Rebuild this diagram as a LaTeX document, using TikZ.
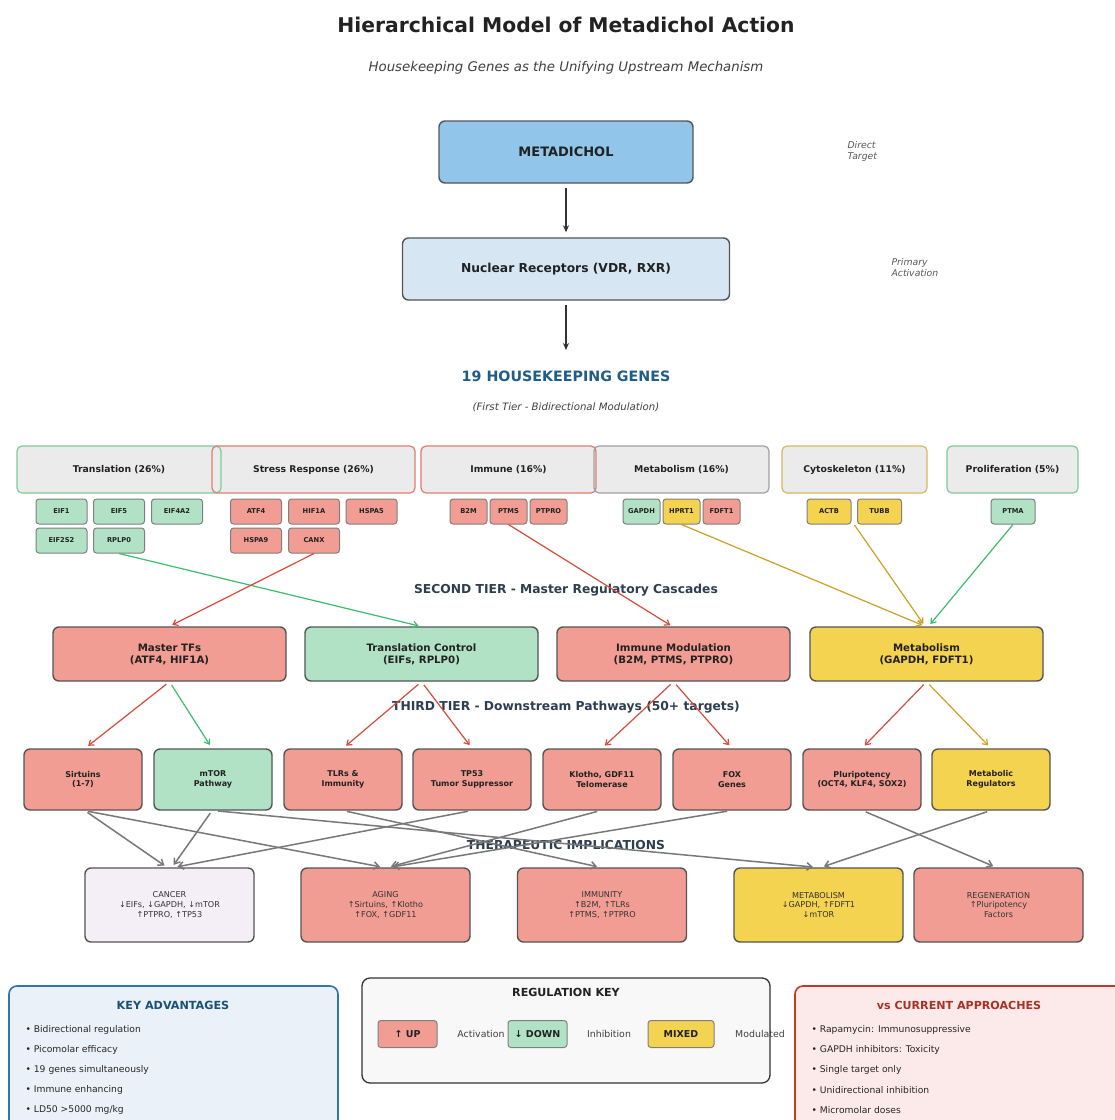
\documentclass[tikz,border=0pt]{standalone}
\usepackage{fontspec}
\setmainfont{DejaVu Sans}[ItalicFont={DejaVu Sans Oblique},BoldFont={DejaVu Sans Bold},BoldItalicFont={DejaVu Sans Bold Oblique}]
\usetikzlibrary{arrows.meta}
\definecolor{upred}{HTML}{F19D93}
\definecolor{dngreen}{HTML}{B2E2C6}
\definecolor{mxyel}{HTML}{F4D351}
\definecolor{lred}{HTML}{D64B3C}
\definecolor{lgreen}{HTML}{3DBB6E}
\definecolor{lgold}{HTML}{C9A227}
\definecolor{bord}{HTML}{555555}
\definecolor{gbord}{HTML}{7F7F7F}
\definecolor{tiercol}{HTML}{2C3E50}
\definecolor{hkblue}{HTML}{1F5C87}
\definecolor{metblue}{HTML}{92C5EA}
\definecolor{nucblue}{HTML}{D6E6F2}
\definecolor{catfill}{HTML}{EBEBEB}
\definecolor{catgreen}{HTML}{7DCB97}
\definecolor{catred}{HTML}{E07B70}
\definecolor{catgray}{HTML}{A0A0A0}
\definecolor{catgold}{HTML}{D9B860}
\definecolor{arrgray}{HTML}{787878}
\definecolor{cancerfill}{HTML}{F4EEF6}
\definecolor{advfill}{HTML}{EAF1F8}
\definecolor{advbord}{HTML}{2E75B6}
\definecolor{advtitle}{HTML}{1A5276}
\definecolor{vsfill}{HTML}{FCEAEA}
\definecolor{vsbord}{HTML}{C0392B}
\definecolor{vstitle}{HTML}{A93226}
\definecolor{keyfill}{HTML}{F8F8F8}
\definecolor{txtdark}{HTML}{222222}
\newcommand\fsz[2]{\fontsize{#1}{#2}\selectfont}
\begin{document}
\begin{tikzpicture}[x=1pt,y=-1pt,
  box/.style={draw=bord, line width=1.4pt, rounded corners=6pt, align=center, inner sep=0pt, text=txtdark},
  topbox/.style={box, minimum height=62pt, font=\bfseries\fsz{13}{15}},
  catbox/.style={rounded corners=5pt, line width=1.2pt, minimum height=47pt, inner sep=0pt, font=\bfseries\fsz{9.3}{11}, text=txtdark},
  gene/.style={draw=gbord, line width=1pt, rounded corners=3pt, minimum height=25pt, inner sep=0pt, font=\bfseries\fsz{6.7}{8}, text=txtdark},
  tier2/.style={box, minimum width=233pt, minimum height=54pt, font=\bfseries\fsz{10.2}{12}},
  tier3/.style={box, minimum width=118pt, minimum height=61pt, font=\bfseries\fsz{8}{9.6}},
  thera/.style={box, minimum width=169pt, minimum height=74pt, font=\fsz{8.1}{9.9}, text=black!80},
  tierlab/.style={font=\bfseries\fsz{12.3}{14}, text=tiercol},
  arr/.style={-{Straight Barb[length=4.5pt,width=6.5pt]}, line width=1.2pt},
  garr/.style={-{Straight Barb[length=5pt,width=7.5pt]}, line width=1.5pt, draw=arrgray},
  blkarr/.style={-{Stealth[length=7pt,width=6pt]}, line width=1.8pt, draw=black!80},
  bullet/.style={anchor=west, font=\fsz{9.2}{11}, text=black!85},
  keybox/.style={draw=gbord, line width=1pt, rounded corners=3pt, minimum height=27pt, inner sep=0pt, font=\bfseries\fsz{9.5}{11}, text=txtdark},
  keytxt/.style={font=\fsz{9.4}{11}, text=black!75}
]
\clip (0,0) rectangle (1115,1120);
\fill[white] (0,0) rectangle (1115,1120);

% title
\node[font=\bfseries\fsz{20.3}{24}, text=txtdark] (title) at (566,25) {Hierarchical Model of Metadichol Action};
\node[font=\itshape\fsz{13.3}{16}, text=black!75] (sub) at (566,68) {Housekeeping Genes as the Unifying Upstream Mechanism};

% top boxes
\node[topbox, fill=metblue, minimum width=254pt] (meta) at (566,152) {METADICHOL};
\node[topbox, fill=nucblue, minimum width=327pt, font=\bfseries\fsz{12.3}{15}] (nuc) at (566,269) {Nuclear Receptors (VDR, RXR)};
\node[font=\itshape\fsz{9.3}{11}, text=black!65, align=left, anchor=west] (dt) at (844,151) {Direct\\Target};
\node[font=\itshape\fsz{9.3}{11}, text=black!65, align=left, anchor=west] (pa) at (888,268) {Primary\\Activation};
\coordinate (hktop) at (566,350);
\draw[blkarr, shorten <=4pt, shorten >=5pt] (meta.south) -- (nuc.north);
\draw[blkarr, shorten <=4pt] (nuc.south) -- (hktop);

\node[font=\bfseries\fsz{14.25}{17}, text=hkblue] (hk) at (566,376) {19 HOUSEKEEPING GENES};
\node[font=\itshape\fsz{10.2}{12}, text=black!75] (hk2) at (566,407) {(First Tier - Bidirectional Modulation)};

% category fills
\foreach \a/\b in {17/221,212/415,421/596,594/769,782/927,947/1078}
  \fill[catfill, rounded corners=5pt] (\a,446) rectangle (\b,493);
\node[catbox, draw=catgreen, minimum width=204pt] (ctrans) at (119,469.5) {Translation (26\%)};
\node[catbox, draw=catred, minimum width=203pt] (cstress) at (313.5,469.5) {Stress Response (26\%)};
\node[catbox, draw=catred, minimum width=175pt] (cimm) at (508.5,469.5) {Immune (16\%)};
\node[catbox, draw=catgray, minimum width=175pt] (cmet) at (681.5,469.5) {Metabolism (16\%)};
\node[catbox, draw=catgold, minimum width=145pt] (ccyto) at (854.5,469.5) {Cytoskeleton (11\%)};
\node[catbox, draw=catgreen, minimum width=131pt] (cprol) at (1012.5,469.5) {Proliferation (5\%)};

% genes
\node[gene, fill=dngreen, minimum width=51pt] (eif1) at (61.5,511.5) {EIF1};
\node[gene, fill=dngreen, minimum width=51pt] (eif5) at (119,511.5) {EIF5};
\node[gene, fill=dngreen, minimum width=51pt] (eif4a2) at (177,511.5) {EIF4A2};
\node[gene, fill=dngreen, minimum width=51pt] (eif2s2) at (61.5,540.5) {EIF2S2};
\node[gene, fill=dngreen, minimum width=51pt] (rplp0) at (119,540.5) {RPLP0};
\node[gene, fill=upred, minimum width=51pt] (atf4) at (256,511.5) {ATF4};
\node[gene, fill=upred, minimum width=51pt] (hif1a) at (314,511.5) {HIF1A};
\node[gene, fill=upred, minimum width=51pt] (hspa5) at (371.5,511.5) {HSPA5};
\node[gene, fill=upred, minimum width=51pt] (hspa9) at (256,540.5) {HSPA9};
\node[gene, fill=upred, minimum width=51pt] (canx) at (314,540.5) {CANX};
\node[gene, fill=upred, minimum width=37pt] (b2m) at (468.5,511.5) {B2M};
\node[gene, fill=upred, minimum width=37pt] (ptms) at (508.5,511.5) {PTMS};
\node[gene, fill=upred, minimum width=37pt] (ptpro) at (548.5,511.5) {PTPRO};
\node[gene, fill=dngreen, minimum width=37pt] (gapdh) at (641.5,511.5) {GAPDH};
\node[gene, fill=mxyel, minimum width=37pt] (hprt1) at (681.5,511.5) {HPRT1};
\node[gene, fill=upred, minimum width=37pt] (fdft1) at (721.5,511.5) {FDFT1};
\node[gene, fill=mxyel, minimum width=44pt] (actb) at (829,511.5) {ACTB};
\node[gene, fill=mxyel, minimum width=44pt] (tubb) at (879.5,511.5) {TUBB};
\node[gene, fill=dngreen, minimum width=44pt] (ptma) at (1013,511.5) {PTMA};
\coordinate (cytoout) at (854.5,525);

% tier labels (under arrows)
\node[tierlab] (lab2) at (566,590) {SECOND TIER - Master Regulatory Cascades};
\node[tierlab] (lab3) at (566,707) {THIRD TIER - Downstream Pathways (50+ targets)};
\node[tierlab] (lab4) at (566,845) {THERAPEUTIC IMPLICATIONS};

% second tier
\node[tier2, fill=upred] (mtf) at (169.5,654) {Master TFs\\(ATF4, HIF1A)};
\node[tier2, fill=dngreen] (tc) at (421.5,654) {Translation Control\\(EIFs, RPLP0)};
\node[tier2, fill=upred] (imm) at (673.5,654) {Immune Modulation\\(B2M, PTMS, PTPRO)};
\node[tier2, fill=mxyel] (met) at (926.5,654) {Metabolism\\(GAPDH, FDFT1)};

% third tier
\node[tier3, fill=upred] (sirt) at (83,779.5) {Sirtuins\\(1-7)};
\node[tier3, fill=dngreen] (mtor) at (213,779.5) {mTOR\\Pathway};
\node[tier3, fill=upred] (tlr) at (343,779.5) {TLRs \&\\Immunity};
\node[tier3, fill=upred] (tp53) at (472,779.5) {TP53\\Tumor Suppressor};
\node[tier3, fill=upred] (klotho) at (602,779.5) {Klotho, GDF11\\Telomerase};
\node[tier3, fill=upred] (fox) at (732,779.5) {FOX\\Genes};
\node[tier3, fill=upred] (pluri) at (862,779.5) {Pluripotency\\(OCT4, KLF4, SOX2)};
\node[tier3, fill=mxyel] (metreg) at (991,779.5) {Metabolic\\Regulators};

% therapeutic
\node[thera, fill=cancerfill] (cancer) at (169.5,905) {CANCER\\↓EIFs, ↓GAPDH, ↓mTOR\\↑PTPRO, ↑TP53};
\node[thera, fill=upred] (aging) at (385.5,905) {AGING\\↑Sirtuins, ↑Klotho\\↑FOX, ↑GDF11};
\node[thera, fill=upred] (immun) at (602,905) {IMMUNITY\\↑B2M, ↑TLRs\\↑PTMS, ↑PTPRO};
\node[thera, fill=mxyel] (metab) at (818.5,905) {METABOLISM\\↓GAPDH, ↑FDFT1\\↓mTOR};
\node[thera, fill=upred] (regen) at (998.5,905) {REGENERATION\\↑Pluripotency\\Factors};

% first -> second tier arrows
\draw[arr, lgreen, shorten >=2pt] (rplp0.south) -- ([xshift=-1pt]tc.north);
\draw[arr, lred, shorten >=3pt] (canx.south) -- (mtf.north);
\draw[arr, lred, shorten >=2pt] (ptms.south) -- ([xshift=-1.5pt]imm.north);
\draw[arr, lgold, shorten >=3pt] (hprt1.south) -- ([xshift=-1.5pt]met.north);
\draw[arr, lgold, shorten >=3pt] (cytoout) -- ([xshift=-1.5pt]met.north);
\draw[arr, lgreen, shorten >=3pt] (ptma.south) -- ([xshift=2pt]met.north);

% second -> third tier arrows
\draw[arr, lred, shorten <=4pt, shorten >=4pt] (mtf.south) -- ([xshift=2pt]sirt.north);
\draw[arr, lgreen, shorten <=4pt, shorten >=4pt] (mtf.south) -- ([xshift=-1pt]mtor.north);
\draw[arr, lred, shorten <=4pt, shorten >=4pt] (tc.south) -- (tlr.north);
\draw[arr, lred, shorten <=4pt, shorten >=4pt] (tc.south) -- (tp53.north);
\draw[arr, lred, shorten <=4pt, shorten >=4pt] (imm.south) -- (klotho.north);
\draw[arr, lred, shorten <=4pt, shorten >=4pt] (imm.south) -- (fox.north);
\draw[arr, lred, shorten <=4pt, shorten >=4pt] (met.south) -- (pluri.north);
\draw[arr, lgold, shorten <=4pt, shorten >=4pt] (met.south) -- (metreg.north);

% third tier -> therapeutic arrows
\draw[garr, shorten <=3pt, shorten >=3pt] ([xshift=2pt]sirt.south) -- ([xshift=-2.5pt]cancer.north);
\draw[garr, shorten <=3pt, shorten >=3pt] ([xshift=2pt]sirt.south) -- ([xshift=-2.5pt]aging.north);
\draw[garr, shorten <=3pt, shorten >=3pt] ([xshift=-1pt]mtor.south) -- ([xshift=2.5pt]cancer.north);
\draw[garr, shorten <=3pt, shorten >=3pt] ([xshift=2pt]mtor.south) -- ([xshift=-2.5pt]metab.north);
\draw[garr, shorten <=3pt, shorten >=3pt] ([xshift=1pt]tlr.south) -- ([xshift=-2pt]immun.north);
\draw[garr, shorten <=3pt, shorten >=3pt] ([xshift=-1pt]tp53.south) -- ([xshift=5pt]cancer.north);
\draw[garr, shorten <=3pt, shorten >=3pt] ([xshift=-2pt]klotho.south) -- ([xshift=2.5pt]aging.north);
\draw[garr, shorten <=3pt, shorten >=3pt] ([xshift=-2pt]fox.south) -- ([xshift=4.5pt]aging.north);
\draw[garr, shorten <=3pt, shorten >=3pt] ([xshift=1pt]pluri.south) -- ([xshift=-2.5pt]regen.north);
\draw[garr, shorten <=3pt, shorten >=3pt] ([xshift=-1pt]metreg.south) -- ([xshift=2.5pt]metab.north);

% bottom: key advantages
\node[draw=advbord, fill=advfill, line width=1.6pt, rounded corners=8pt, minimum width=329pt, minimum height=150pt, inner sep=0pt] (adv) at (173.5,1061) {};
\node[font=\bfseries\fsz{11.2}{13}, text=advtitle] (advt) at (173,1005) {KEY ADVANTAGES};
\node[bullet] (a1) at (22,1030) {• Bidirectional regulation};
\node[bullet] (a2) at (22,1050) {• Picomolar efficacy};
\node[bullet] (a3) at (22,1070) {• 19 genes simultaneously};
\node[bullet] (a4) at (22,1090) {• Immune enhancing};
\node[bullet] (a5) at (22,1110) {• LD50 >5000 mg/kg};

% regulation key
\node[draw=black!80, fill=keyfill, line width=1.3pt, rounded corners=8pt, minimum width=408pt, minimum height=105pt, inner sep=0pt] (key) at (566,1030.5) {};
\node[font=\bfseries\fsz{11.1}{13}, text=txtdark] (keyt) at (566,992) {REGULATION KEY};
\node[keybox, fill=upred, minimum width=59pt] (kup) at (407.5,1034) {↑ UP};
\node[keytxt] (kact) at (481,1034) {Activation};
\node[keybox, fill=dngreen, minimum width=59pt] (kdn) at (537.5,1034) {↓ DOWN};
\node[keytxt] (kinh) at (609,1034) {Inhibition};
\node[keybox, fill=mxyel, minimum width=66pt] (kmx) at (681,1034) {MIXED};
\node[keytxt] (kmod) at (760,1034) {Modulated};

% vs current approaches
\node[draw=vsbord, fill=vsfill, line width=1.6pt, rounded corners=8pt, minimum width=340pt, minimum height=150pt, inner sep=0pt] (vs) at (965,1061) {};
\node[font=\bfseries\fsz{11.1}{13}, text=vstitle] (vst) at (959,1005) {vs CURRENT APPROACHES};
\node[bullet] (v1) at (808,1030) {• Rapamycin: Immunosuppressive};
\node[bullet] (v2) at (808,1050) {• GAPDH inhibitors: Toxicity};
\node[bullet] (v3) at (808,1070) {• Single target only};
\node[bullet] (v4) at (808,1090) {• Unidirectional inhibition};
\node[bullet] (v5) at (808,1110) {• Micromolar doses};
\end{tikzpicture}
\end{document}
